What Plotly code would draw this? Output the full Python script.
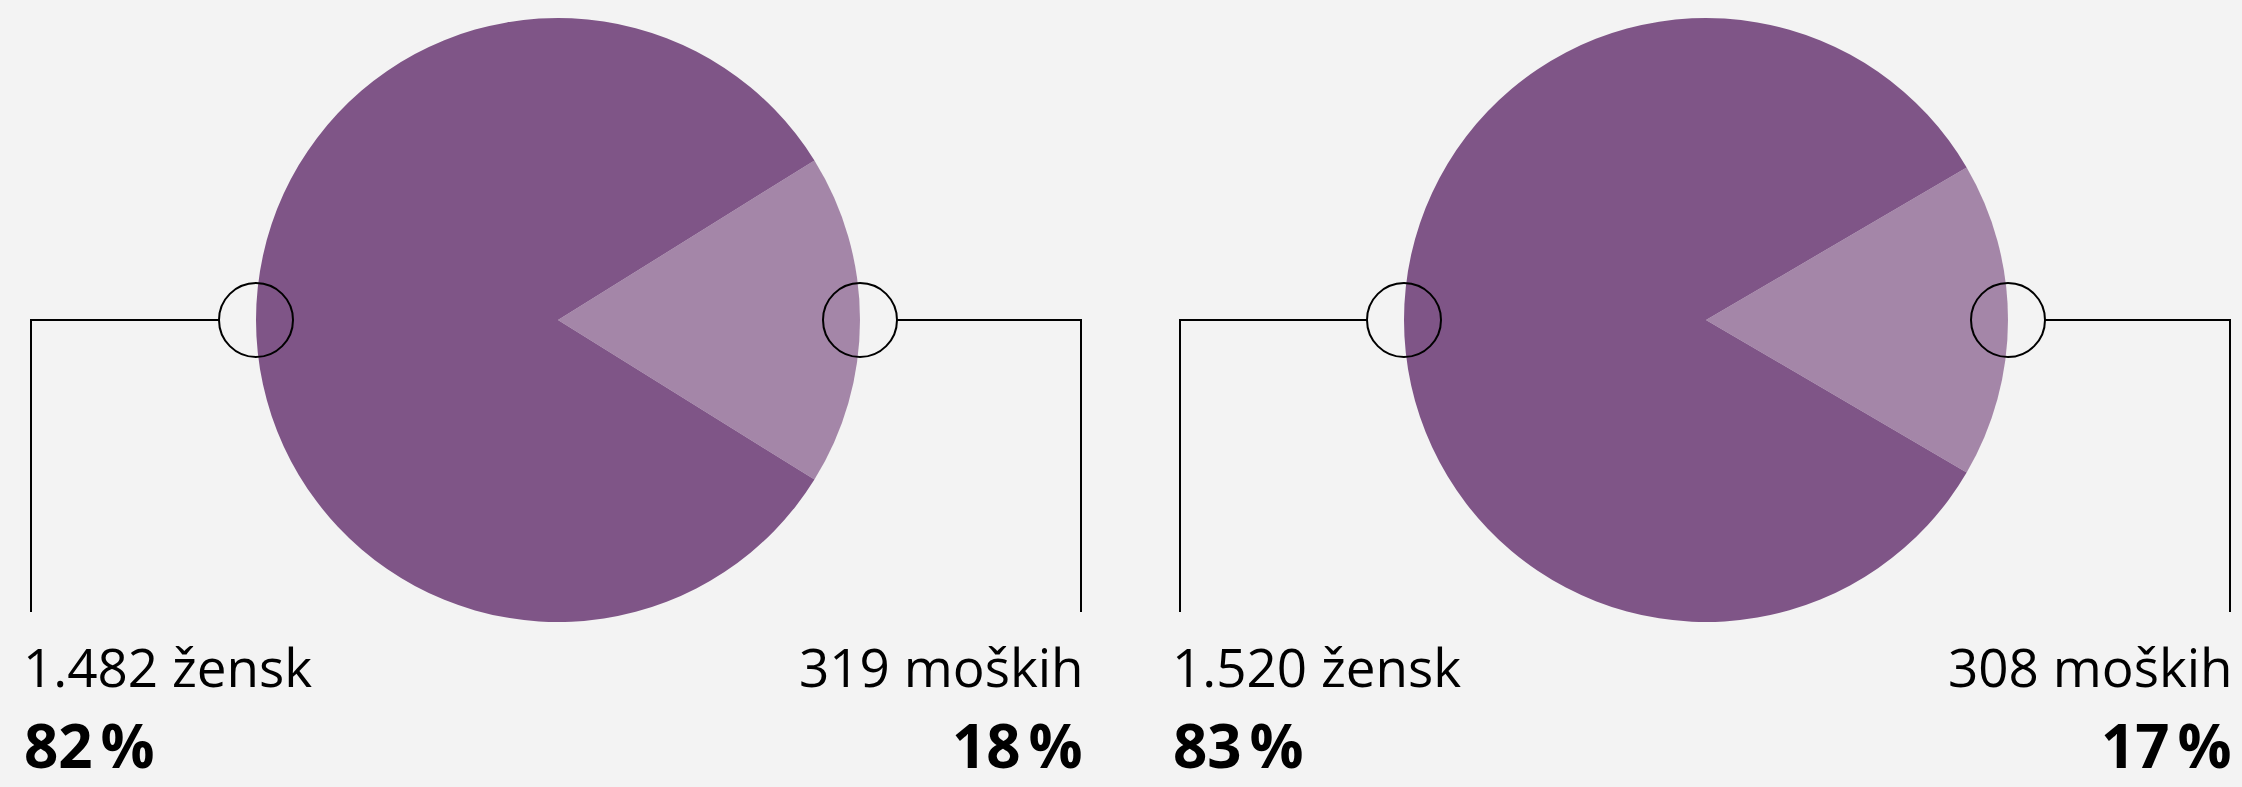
import plotly.graph_objects as go

# ---- data ----
groups = ["2019", "2020"]
women = [1482, 1520]
men = [319, 308]
women_pct = [82, 83]
men_pct = [18, 17]
label_women = "žensk"
label_men = "moških"

# ---- styles / layout constants (pixels) ----
W, H = 2242, 787
BG = "#f3f3f3"
C_WOMEN = "#7f5587"
C_MEN = "#a486a8"
centers_x = [558, 1706]
center_y = 320
R = 302
RING = 37
LEFT_LINE_X = [31, 1180]
RIGHT_LINE_X = [1081, 2230]
LINE_BOTTOM = 612
FONT = "Open Sans"
SIZE_REG, SIZE_BOLD = 53, 60
Y_REG, Y_BOLD = 666, 745


def px(x):
    return x / W


def py(y):
    return 1 - y / H


def fmt(n):
    return f"{n:,}".replace(",", ".")


fig = go.Figure()
shapes = []
annotations = []

for i in range(len(groups)):
    cx = centers_x[i]
    total = women[i] + men[i]
    rot = 90 - 180 * men[i] / total
    fig.add_trace(go.Pie(
        labels=["moški", "ženske"],
        values=[men[i], women[i]],
        marker=dict(colors=[C_MEN, C_WOMEN], line=dict(width=0)),
        sort=False,
        direction="clockwise",
        rotation=rot,
        textinfo="none",
        hoverinfo="label+value",
        domain=dict(x=[px(cx - R), px(cx + R)], y=[py(center_y + R), py(center_y - R)]),
        showlegend=False,
    ))
    lx, rx = cx - R, cx + R
    # rings on the pie edge
    for ex in (lx, rx):
        shapes.append(dict(type="circle", xref="paper", yref="paper",
                           xsizemode="pixel", ysizemode="pixel",
                           xanchor=px(ex), yanchor=py(center_y),
                           x0=-RING, x1=RING, y0=-RING, y1=RING,
                           line=dict(color="black", width=2), fillcolor="rgba(0,0,0,0)",
                           layer="above"))
    # connector lines
    shapes.append(dict(type="path", xref="paper", yref="paper",
                       path=f"M {px(lx - RING)} {py(center_y)} L {px(LEFT_LINE_X[i])} {py(center_y)} L {px(LEFT_LINE_X[i])} {py(LINE_BOTTOM)}",
                       line=dict(color="black", width=2), layer="above"))
    shapes.append(dict(type="path", xref="paper", yref="paper",
                       path=f"M {px(rx + RING)} {py(center_y)} L {px(RIGHT_LINE_X[i])} {py(center_y)} L {px(RIGHT_LINE_X[i])} {py(LINE_BOTTOM)}",
                       line=dict(color="black", width=2), layer="above"))
    # labels
    annotations.append(dict(xref="paper", yref="paper", x=px(LEFT_LINE_X[i] - 9), y=py(Y_REG),
                            xanchor="left", yanchor="middle", showarrow=False, borderpad=0,
                            text=f"{fmt(women[i])} {label_women}",
                            font=dict(family=FONT, size=SIZE_REG, color="black", weight=400)))
    annotations.append(dict(xref="paper", yref="paper", x=px(RIGHT_LINE_X[i] + 4), y=py(Y_REG),
                            xanchor="right", yanchor="middle", showarrow=False, borderpad=0,
                            text=f"{fmt(men[i])} {label_men}",
                            font=dict(family=FONT, size=SIZE_REG, color="black", weight=400)))
    annotations.append(dict(xref="paper", yref="paper", x=px(LEFT_LINE_X[i] - 8), y=py(Y_BOLD),
                            xanchor="left", yanchor="middle", showarrow=False, borderpad=0,
                            text=f"{women_pct[i]}\u202f%",
                            font=dict(family=FONT, size=SIZE_BOLD, color="black", weight=700)))
    annotations.append(dict(xref="paper", yref="paper", x=px(RIGHT_LINE_X[i] + 2), y=py(Y_BOLD),
                            xanchor="right", yanchor="middle", showarrow=False, borderpad=0,
                            text=f"{men_pct[i]}\u202f%",
                            font=dict(family=FONT, size=SIZE_BOLD, color="black", weight=700)))

fig.update_layout(
    width=W, height=H,
    margin=dict(l=0, r=0, t=0, b=0, pad=0),
    paper_bgcolor=BG, plot_bgcolor=BG,
    shapes=shapes, annotations=annotations,
    showlegend=False,
)

fig.write_html("out.html", config={"displayModeBar": False},
               post_script="document.body.style.margin='0';document.body.style.overflow='hidden';")
